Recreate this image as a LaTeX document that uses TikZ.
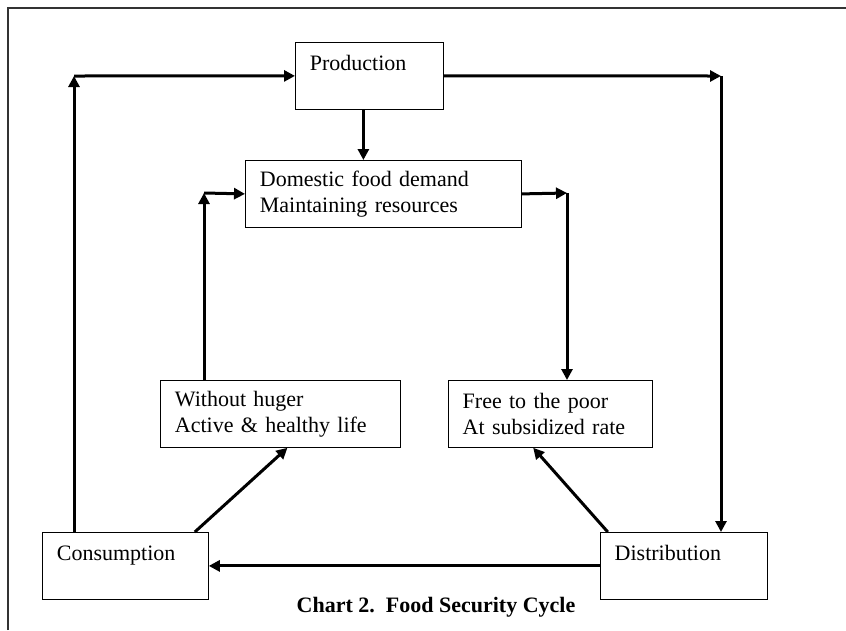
\documentclass[tikz,border=0pt]{standalone}
\usepackage{fontspec}
\setmainfont{Liberation Serif}
\usepackage{tikz}
\usetikzlibrary{positioning, arrows.meta}
\tikzstyle{box} = [rectangle,
draw=black,
line width=0.8pt,
align=left,
anchor=north west,
inner xsep=14.5pt,
inner ysep=8pt,
minimum height=67pt,
font=\fontsize{22}{26}\selectfont]
\tikzstyle{onebox} = [box,
inner ysep=12pt,
text height=16pt,
text depth=27pt]
\tikzstyle{flow} = [line width=3pt]
\tikzstyle{frame} = [line width=1.5pt, draw=black!80]

\begin{document}
\begin{tikzpicture}[x=1pt, y=-1pt,
    >={Triangle[length=11pt,width=11pt]}
    ]
    \useasboundingbox (0,0) rectangle (846,630);
    
    \draw[frame] (8,630) -- (8,8) -- (846,8);
    
    \node (prod) [onebox, text width=119pt] at (295,42) {Production};
    
    \node (dom) [box, text width=247pt] at (245,160) {Domestic food demand\\ Maintaining resources};
    
    \node (hunger) [box, text width=211pt] at (160,380) {Without huger\\ Active \& healthy life};
    \node (poor) [box, text width=175pt, anchor=west, right=47pt of hunger] {Free to the poor\\ At subsidized rate};
    
    \node (cons) [onebox, text width=137pt] at (42,532) {Consumption};
    \node (dist) [onebox, text width=138pt, anchor=west, right=391pt of cons] {Distribution};
    
    \node (title) [anchor=base, font=\fontsize{22}{26}\selectfont\bfseries] at (436,612) {Chart 2.\ \ Food Security Cycle};
    
    % corner points
    \coordinate (topleft) at (74,76);
    \coordinate (topright) at (721,76);
    \coordinate (midleft) at (204,193);
    \coordinate (midright) at (567,193);
    
    % outer loop
    \draw[flow, ->] (topleft |- cons.north) -- (topleft);
    \draw[flow, ->] (topleft) -- (prod.west);
    \draw[flow, ->] (prod.east) -- (topright);
    \draw[flow, ->] (topright) -- (topright |- dist.north);
    \draw[flow, ->] (dist.west) -- (cons.east);
    
    % inner loop
    \draw[flow, ->] ([xshift=-6pt]prod.south) -- ([xshift=-6pt]prod.south |- dom.north);
    \draw[flow, ->] (midleft |- hunger.north) -- (midleft);
    \draw[flow, ->] (midleft) -- (dom.west);
    \draw[flow, ->] (dom.east) -- (midright);
    \draw[flow, ->] (midright) -- (midright |- poor.north);
    
    \draw[flow, ->] ([xshift=-14pt]cons.north east) -- ([xshift=7pt]hunger.south);
    \draw[flow, ->] ([xshift=8pt]dist.north west) -- ([xshift=-17pt]poor.south);
    
\end{tikzpicture}
\end{document}
